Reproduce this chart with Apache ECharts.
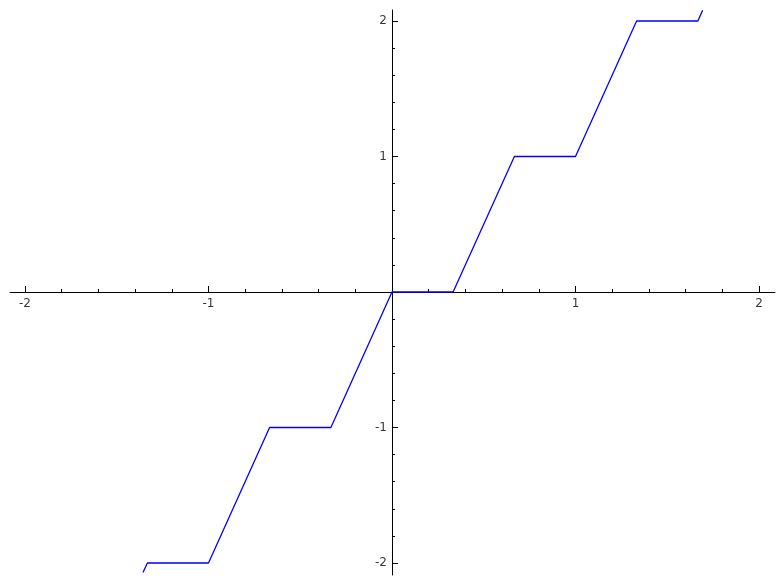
<!DOCTYPE html>
<html>
<head>
<meta charset="utf-8">
<script src="https://cdn.jsdelivr.net/npm/echarts@6/dist/echarts.min.js"></script>
<style>html,body{margin:0;padding:0;background:#fff;}#c{width:784px;height:584px;}</style>
</head>
<body>
<div id="c"></div>
<script>
// Data
var xs = [-1.357, -1.333, -1.0, -0.667, -0.333, 0.0, 0.333, 0.667, 1.0, 1.333, 1.667, 1.693];
var ys = [-2.07, -2.0, -2.0, -1.0, -1.0, 0.0, 0.0, 1.0, 1.0, 2.0, 2.0, 2.08];
var xMajorTicks = [-2, -1, 1, 2];
var xMinorTicks = [-1.8, -1.6, -1.4, -1.2, -0.8, -0.6, -0.4, -0.2, 0.2, 0.4, 0.6, 0.8, 1.2, 1.4, 1.6, 1.8];
var yMajorTicks = [-2, -1, 1, 2];
var yMinorTicks = [-1.8, -1.6, -1.4, -1.2, -0.8, -0.6, -0.4, -0.2, 0.2, 0.4, 0.6, 0.8, 1.2, 1.4, 1.6, 1.8];
var xTickLabels = ['-2', '-1', '1', '2'];
var yTickLabels = ['-2', '-1', '1', '2'];
var xRange = [-2.0817, 2.0872];
var yRange = [-2.0886, 2.0812];

var points = xs.map(function (x, i) { return [x, ys[i]]; });
var xLabelPts = xMajorTicks.map(function (v, i) { return { value: [v, 0], name: xTickLabels[i] }; });
var yLabelPts = yMajorTicks.map(function (v, i) { return { value: [0, v], name: yTickLabels[i] }; });
var font = 'DejaVu Sans';

function axis(isX, major, minor, range, main) {
  return {
    type: 'value',
    gridIndex: 0,
    position: isX ? 'bottom' : 'left',
    min: range[0],
    max: range[1],
    axisLine: { show: main, onZero: true, lineStyle: { color: '#000', width: 1 } },
    axisTick: {
      show: true, inside: true, length: main ? 6 : 3,
      customValues: main ? major : minor,
      lineStyle: { color: '#000', width: 1 }
    },
    axisLabel: { show: false },
    splitLine: { show: false },
    minorTick: { show: false }
  };
}

var labelStyle = { color: '#000', fontFamily: font, fontSize: 12 };

var chart = echarts.init(document.getElementById('c'), null, { renderer: 'canvas' });
chart.setOption({
  animation: false,
  backgroundColor: '#fff',
  grid: { left: 10, right: 9, top: 10, bottom: 9, containLabel: false, outerBoundsMode: 'none' },
  xAxis: [axis(true, xMajorTicks, xMinorTicks, xRange, true), axis(true, xMajorTicks, xMinorTicks, xRange, false)],
  yAxis: [axis(false, yMajorTicks, yMinorTicks, yRange, true), axis(false, yMajorTicks, yMinorTicks, yRange, false)],
  series: [{
    type: 'line',
    xAxisIndex: 0, yAxisIndex: 0,
    data: points,
    showSymbol: false,
    lineStyle: { color: '#0000ff', width: 1.3 },
    z: 1
  }, {
    type: 'scatter',
    xAxisIndex: 0, yAxisIndex: 0,
    data: xLabelPts,
    symbolSize: 0,
    silent: true,
    label: Object.assign({ show: true, position: 'bottom', distance: 6, formatter: '{b}' }, labelStyle)
  }, {
    type: 'scatter',
    xAxisIndex: 0, yAxisIndex: 0,
    data: yLabelPts,
    symbolSize: 0,
    silent: true,
    label: Object.assign({ show: true, position: 'left', distance: 5, formatter: '{b}' }, labelStyle)
  }]
});
</script>
</body>
</html>
